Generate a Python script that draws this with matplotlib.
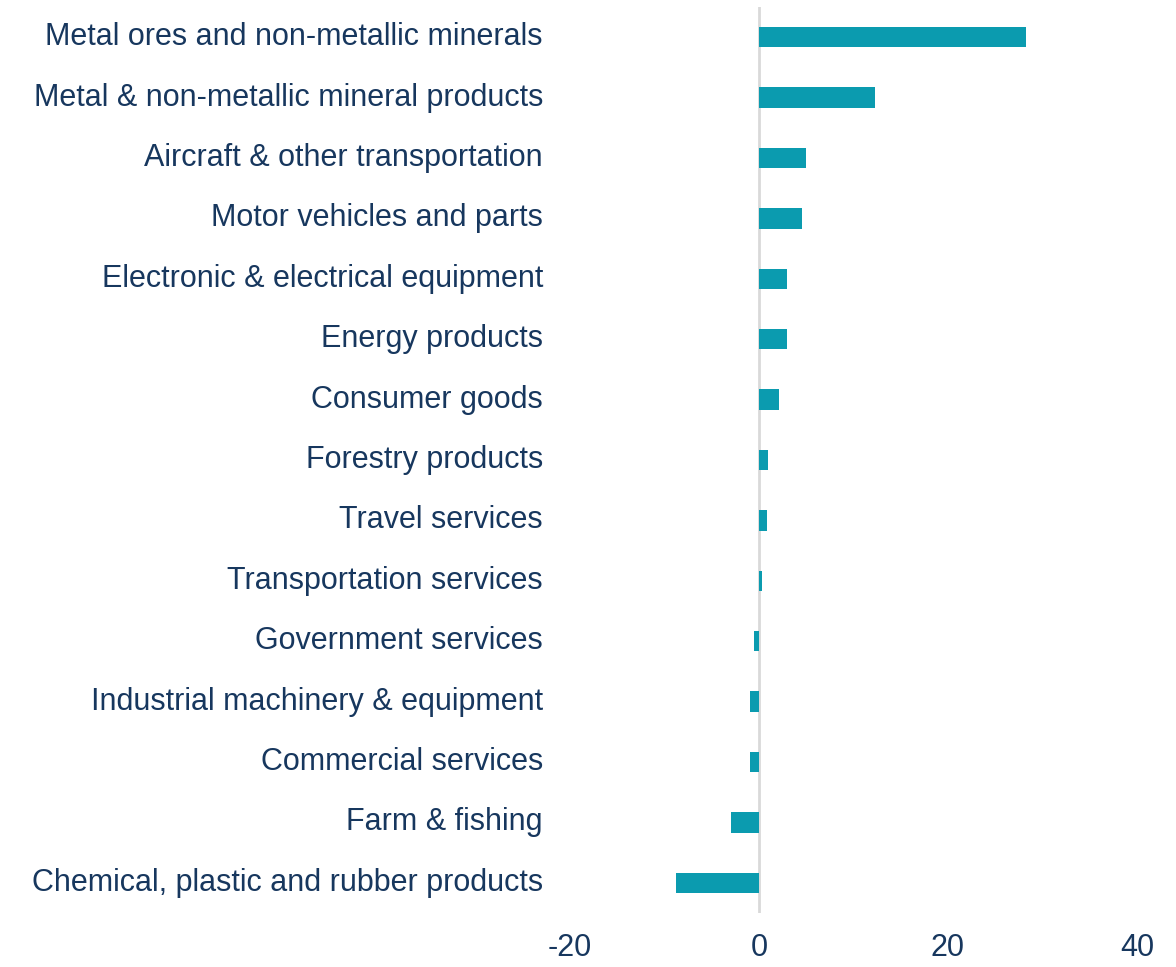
import matplotlib.pyplot as plt

categories = [
    "Metal ores and non-metallic minerals",
    "Metal & non-metallic mineral products",
    "Aircraft & other transportation",
    "Motor vehicles and parts",
    "Electronic & electrical equipment",
    "Energy products",
    "Consumer goods",
    "Forestry products",
    "Travel services",
    "Transportation services",
    "Government services",
    "Industrial machinery & equipment",
    "Commercial services",
    "Farm & fishing",
    "Chemical, plastic and rubber products",
]
values = [28.3, 12.3, 5.0, 4.55, 3.0, 3.0, 2.1, 1.0, 0.8, 0.3,
          -0.5, -1.0, -1.0, -3.0, -8.75]
xticks = [-20, 0, 20, 40]

bar_color = "#0B9BAF"
text_color = "#17375E"

plt.rcParams['font.family'] = ['Liberation Sans', 'DejaVu Sans']

fig = plt.figure(figsize=(11.76, 9.67), dpi=100)
ax = fig.add_axes([0.4847, 0.0558, 0.4821, 0.937])

ypos = list(range(len(categories)))
ax.barh(ypos, values, height=0.34, color=bar_color, zorder=2)
ax.axvline(0, color="#D9D9D9", linewidth=2, zorder=1)

ax.set_ylim(len(categories) - 0.5, -0.5)
ax.set_xlim(-20, 40)
ax.set_yticks(ypos)
ax.set_yticklabels(categories, fontsize=22, color=text_color, va='center')
ax.set_xticks(xticks)
ax.set_xticklabels([str(t) for t in xticks], fontsize=22, color=text_color)
ax.tick_params(axis='both', length=0)
ax.tick_params(axis='y', pad=19.5)
ax.tick_params(axis='x', pad=14.5)

for s in ax.spines.values():
    s.set_visible(False)

fig.savefig("out.png", dpi=100)
